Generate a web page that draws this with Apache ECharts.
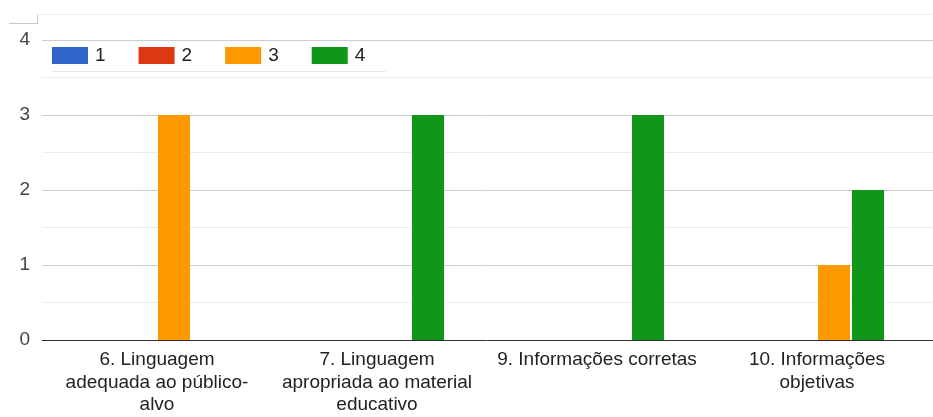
<!DOCTYPE html>
<html>
<head>
<meta charset="utf-8">
<script src="https://cdn.jsdelivr.net/npm/echarts@6/dist/echarts.min.js"></script>
<style>
html,body{margin:0;padding:0;background:#fff;}
#chart{width:933px;height:417px;}
</style>
</head>
<body>
<div id="chart"></div>
<script>
const categories = [
  "6. Linguagem\nadequada ao público-\nalvo",
  "7. Linguagem\napropriada ao material\neducativo",
  "9. Informações corretas",
  "10. Informações\nobjetivas"
];
const seriesNames = ["1", "2", "3", "4"];
const values1 = [0, 0, 0, 0];
const values2 = [0, 0, 0, 0];
const values3 = [3, 0, 0, 1];
const values4 = [0, 3, 3, 2];
const colors = ["#3366cc", "#dc3912", "#ff9900", "#109618"];
const yTicks = [0, 1, 2, 3, 4];

const font = "Liberation Sans, Arial, sans-serif";
const chart = echarts.init(document.getElementById("chart"), null, {renderer: "canvas"});

const allValues = [values1, values2, values3, values4];

chart.setOption({
  animation: false,
  backgroundColor: "#fff",
  color: colors,
  textStyle: {fontFamily: font},
  legend: {
    left: 52, top: 46, padding: 0,
    itemWidth: 36, itemHeight: 17, itemGap: 33,
    icon: "rect",
    textStyle: {fontSize: 19, color: "#222", fontFamily: font, padding: [0, 0, 0, 2]},
    data: seriesNames
  },
  graphic: [
    {type: "line", shape: {x1: 51, y1: 71.5, x2: 386, y2: 71.5}, style: {stroke: "#e8e8e8", lineWidth: 1}, z: 100},
    {type: "line", shape: {x1: 9, y1: 23.5, x2: 37, y2: 23.5}, style: {stroke: "#c8c8c8", lineWidth: 1}},
    {type: "line", shape: {x1: 37.5, y1: 14, x2: 37.5, y2: 24}, style: {stroke: "#c8c8c8", lineWidth: 1}},
    {type: "line", shape: {x1: 37, y1: 14.5, x2: 933, y2: 14.5}, style: {stroke: "#f0f0f0", lineWidth: 1}}
  ],
  grid: [
    {left: 42, right: 0, top: 40, bottom: 77},
    {left: 47, right: 6, top: 40, bottom: 77}
  ],
  xAxis: [
    {
      type: "category", gridIndex: 0, data: categories,
      axisLine: {show: true, lineStyle: {color: "#333", width: 1}},
      axisTick: {show: false}, axisLabel: {show: false}, splitLine: {show: false}
    },
    {
      type: "category", gridIndex: 1, data: categories,
      axisLine: {show: false}, axisTick: {show: false},
      axisLabel: {
        fontSize: 19, color: "#222", lineHeight: 22.5, margin: 9,
        fontFamily: font, interval: 0, align: "center"
      },
      splitLine: {show: false}
    }
  ],
  yAxis: [
    {
      type: "value", gridIndex: 0, min: yTicks[0], max: yTicks[yTicks.length - 1], interval: 1,
      axisLine: {show: false}, axisTick: {show: false},
      axisLabel: {fontSize: 19, color: "#444", margin: 12, fontFamily: font},
      splitLine: {show: true, lineStyle: {color: "#cccccc", width: 1}},
      minorTick: {show: false, splitNumber: 2},
      minorSplitLine: {show: true, lineStyle: {color: "#ebebeb", width: 1}}
    },
    {
      type: "value", gridIndex: 1, min: yTicks[0], max: yTicks[yTicks.length - 1], interval: 1,
      axisLine: {show: false}, axisTick: {show: false}, axisLabel: {show: false},
      splitLine: {show: false}
    }
  ],
  series: seriesNames.map((name, i) => ({
    name: name,
    type: "bar",
    xAxisIndex: 1, yAxisIndex: 1,
    data: allValues[i],
    barWidth: 32,
    barGap: "6.25%",
    barCategoryGap: "39%",
    itemStyle: {color: colors[i]},
    z: 3
  }))
});
</script>
</body>
</html>
